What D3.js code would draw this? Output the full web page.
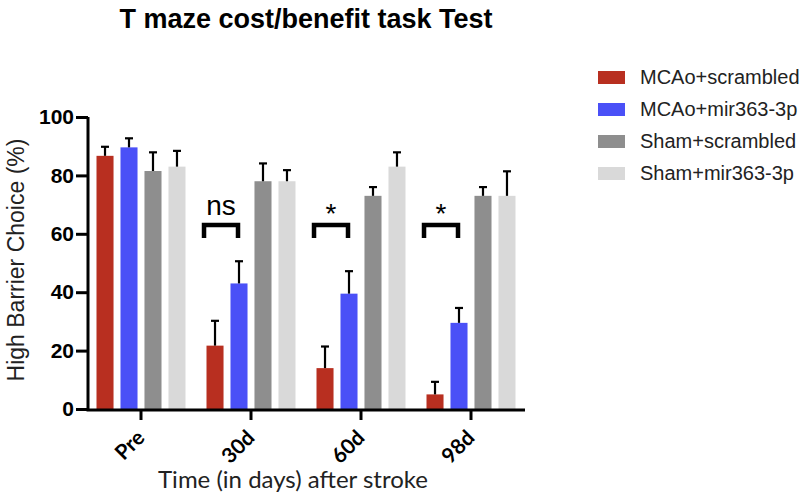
<!DOCTYPE html>
<html><head><meta charset="utf-8">
<script src="https://cdn.jsdelivr.net/npm/d3@7"></script>
<style>body{margin:0;background:#fff}</style>
</head><body><svg id="c" width="800" height="500"></svg>
<script>
const categories = ["Pre", "30d", "60d", "98d"];
const seriesNames = ["MCAo+scrambled", "MCAo+mir363-3p", "Sham+scrambled", "Sham+mir363-3p"];
const mcaoScrambled = [86.7, 21.7, 14.0, 5.0];
const mcaoMir = [89.6, 43.0, 39.5, 29.5];
const shamScrambled = [81.5, 78.0, 73.0, 73.0];
const shamMir = [83.0, 78.0, 83.0, 73.0];
const errMcaoScrambled = [3.1, 8.5, 7.4, 4.3];
const errMcaoMir = [3.1, 7.6, 7.7, 5.1];
const errShamScrambled = [6.4, 6.1, 3.0, 3.0];
const errShamMir = [5.4, 3.8, 4.9, 8.4];
const sigLabels = ["", "ns", "*", "*"];
const bracketLevel = 63;
const yTicks = [0, 20, 40, 60, 80, 100];
const colors = ["#b82f20", "#4a50f7", "#8e8e8e", "#d9d9d9"];

const values = [mcaoScrambled, mcaoMir, shamScrambled, shamMir];
const errors = [errMcaoScrambled, errMcaoMir, errShamScrambled, errShamMir];

const svg = d3.select("#c");
const x0 = d3.scaleBand().domain(categories).range([86, 526]).padding(0);
const bw = x0.bandwidth();
const x1 = d3.scaleBand().domain(seriesNames).range([bw/2 - 44.5, bw/2 + 44.5]).paddingInner(0.29);
const y = d3.scaleLinear().domain([0, 100]).range([409, 117]);

const data = [];
categories.forEach((c, i) => seriesNames.forEach((s, j) => data.push({c, s, j, v: values[j][i], e: errors[j][i]})));

// bars
svg.append("g").selectAll("rect").data(data).join("rect")
  .attr("x", d => x0(d.c) + x1(d.s))
  .attr("width", x1.bandwidth())
  .attr("y", d => y(d.v))
  .attr("height", d => y(0) - y(d.v))
  .attr("fill", d => colors[d.j]);

// error bars
const eg = svg.append("g").attr("stroke", "#000").attr("stroke-width", 2.2);
data.forEach(d => {
  const cx = x0(d.c) + x1(d.s) + x1.bandwidth()/2;
  eg.append("line").attr("x1", cx).attr("x2", cx).attr("y1", y(d.v)).attr("y2", y(d.v + d.e));
  eg.append("line").attr("x1", cx - 4).attr("x2", cx + 4).attr("y1", y(d.v + d.e)).attr("y2", y(d.v + d.e));
});

// y axis
const yAxis = svg.append("g").attr("transform", "translate(88,0)")
  .call(d3.axisLeft(y).tickValues(yTicks).tickSize(12).tickPadding(2));
yAxis.select(".domain").attr("stroke-width", 3).attr("d", `M0,${y(100)}V${y(0)+1.5}`);
yAxis.selectAll(".tick line").attr("stroke-width", 3);
yAxis.selectAll("text").attr("font-family", "Liberation Sans, Arial, sans-serif")
  .attr("font-weight", "bold").attr("font-size", 21).attr("fill", "#000");

// x axis
const xAxis = svg.append("g").attr("transform", "translate(0,410)")
  .call(d3.axisBottom(x0).tickSize(10).tickSizeOuter(0));
xAxis.select(".domain").attr("stroke-width", 3).attr("d", `M86.5,0H525`);
xAxis.selectAll(".tick line").attr("stroke-width", 3);
xAxis.selectAll("text")
  .attr("font-family", "Lato, sans-serif").attr("font-weight", "bold").attr("font-size", 21)
  .attr("fill", "#000").attr("text-anchor", "end").attr("dy", null).attr("y", 0)
  .attr("transform", "translate(5,29) rotate(-45)");

// brackets and significance
const bg = svg.append("g");
categories.forEach((c, i) => {
  if (!sigLabels[i]) return;
  const l = x0(c) + x1(seriesNames[0]) + x1.bandwidth()/2 - 11;
  const r = x0(c) + x1(seriesNames[1]) + x1.bandwidth()/2 - 1;
  const yt = y(bracketLevel);
  bg.append("path").attr("d", `M${l},${yt + 13}V${yt}H${r}V${yt + 13}`)
    .attr("fill", "none").attr("stroke", "#000").attr("stroke-width", 4.5);
  bg.append("text").attr("x", (l + r)/2).attr("y", sigLabels[i] === "*" ? yt - 2 : yt - 10)
    .attr("text-anchor", "middle").attr("font-family", "Liberation Sans, Arial, sans-serif")
    .attr("font-size", 28).attr("fill", "#000").text(sigLabels[i]);
});

// title
svg.append("text").attr("x", 306).attr("y", 28).attr("text-anchor", "middle")
  .attr("font-family", "Liberation Sans, Arial, sans-serif").attr("font-weight", "bold")
  .attr("font-size", 27).attr("fill", "#000").text("T maze cost/benefit task Test");

// axis titles
svg.append("text").attr("transform", "translate(24,260) rotate(-90)").attr("text-anchor", "middle")
  .attr("font-family", "Liberation Sans, Arial, sans-serif").attr("font-size", 23).attr("fill", "#222")
  .text("High Barrier Choice (%)");
svg.append("text").attr("x", 293).attr("y", 488).attr("text-anchor", "middle")
  .attr("font-family", "Lato, sans-serif").attr("font-size", 24).attr("fill", "#222")
  .text("Time (in days) after stroke");

// legend
const lg = svg.append("g").selectAll("g").data(seriesNames).join("g")
  .attr("transform", (d, i) => `translate(598,${71 + i * 32})`);
lg.append("rect").attr("width", 27).attr("height", 13).attr("fill", (d, i) => colors[i]);
lg.append("text").attr("x", 42).attr("y", 13).attr("font-family", "Liberation Sans, Arial, sans-serif")
  .attr("font-size", 20).attr("fill", "#222").text(d => d);
</script></body></html>
